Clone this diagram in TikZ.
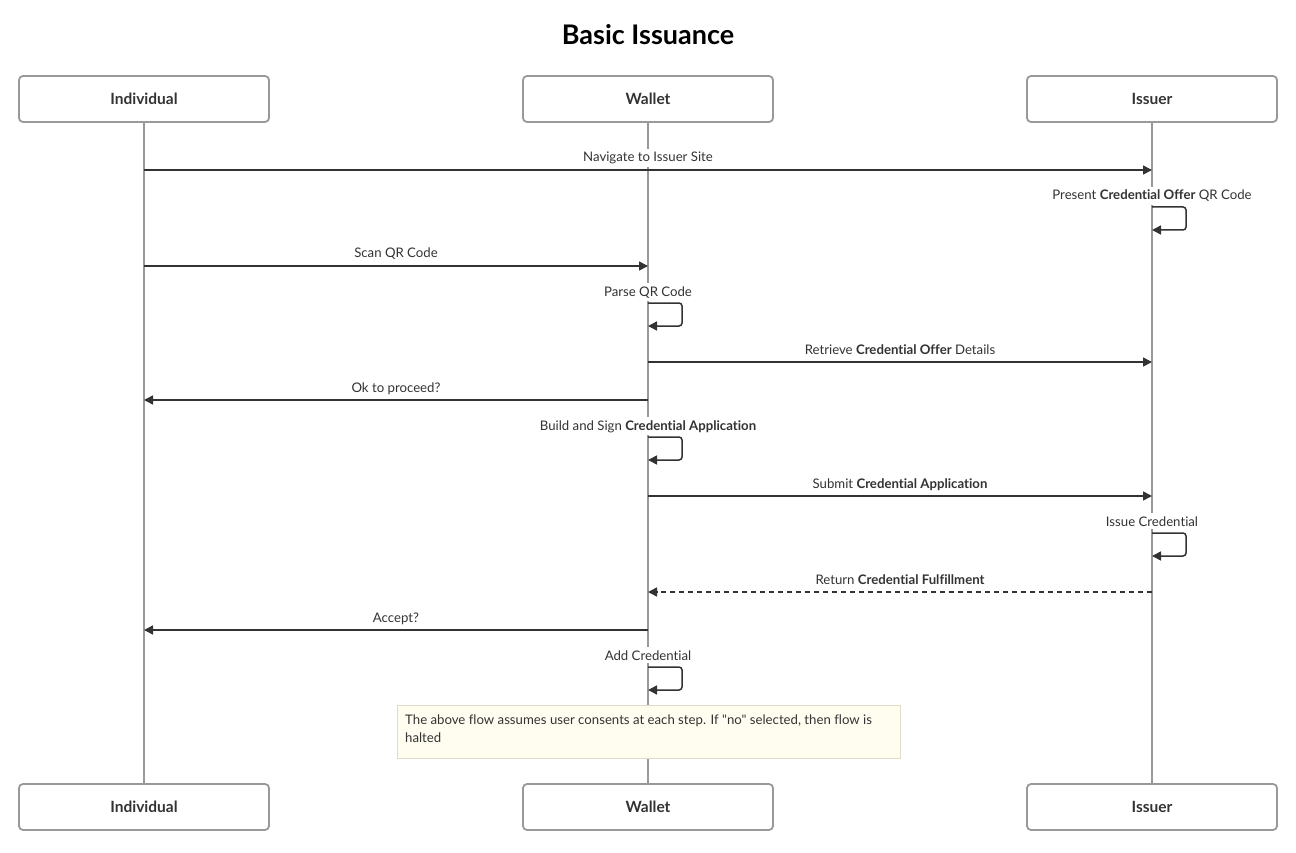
\documentclass[tikz,border=0pt]{standalone}
\usepackage{fontspec}
\setmainfont{Lato}[Ligatures={TeXOff,NoCommon}]
\usetikzlibrary{arrows.meta}
\definecolor{txt}{HTML}{333333}
\definecolor{life}{HTML}{999999}
\definecolor{notefill}{HTML}{FFFDF0}
\definecolor{notedraw}{HTML}{DDDDC8}
\tikzset{
  actor/.style={draw=life, line width=1.8pt, rounded corners=4pt, minimum width=250pt, minimum height=46pt, inner sep=0pt, font=\fontsize{15.5}{18}\selectfont\bfseries, text=txt},
  lifeline/.style={draw=life, line width=1.5pt},
  msg/.style={draw=txt, line width=1.5pt, -{Triangle[length=9pt,width=9pt]}},
  ret/.style={msg, dash pattern=on 5pt off 4pt},
  lbl/.style={font=\fontsize{13.2}{16}\selectfont, text=txt, fill=white, inner xsep=1pt, inner ysep=3pt, anchor=base},
  selfloop/.style={msg, rounded corners=3pt},
}
\begin{document}
\begin{tikzpicture}[x=1pt,y=-1pt]
\useasboundingbox (0,0) rectangle (1296,853);
\node[font=\fontsize{27}{32}\selectfont\bfseries, text=black, anchor=base] (title) at (648,45) {Basic Issuance};
% actors
\node[actor] (ind) at (144,99) {Individual};
\node[actor] (wal) at (648,99) {Wallet};
\node[actor] (iss) at (1152,99) {Issuer};
\node[actor] (indb) at (144,807) {Individual};
\node[actor] (walb) at (648,807) {Wallet};
\node[actor] (issb) at (1152,807) {Issuer};
% lifelines
\draw[lifeline] (ind.south) -- (indb.north);
\draw[lifeline] (wal.south) -- (walb.north);
\draw[lifeline] (iss.south) -- (issb.north);
% coordinates on lifelines
\coordinate (i1) at (144,170); \coordinate (s1) at (1152,170);
\coordinate (s2a) at (1152,207); \coordinate (s2b) at (1152,230);
\coordinate (i3) at (144,266); \coordinate (w3) at (648,266);
\coordinate (w4a) at (648,303); \coordinate (w4b) at (648,326);
\coordinate (w5) at (648,362); \coordinate (s5) at (1152,362);
\coordinate (w6) at (648,400); \coordinate (i6) at (144,400);
\coordinate (w7a) at (648,437); \coordinate (w7b) at (648,460);
\coordinate (w8) at (648,496); \coordinate (s8) at (1152,496);
\coordinate (s9a) at (1152,533); \coordinate (s9b) at (1152,556);
\coordinate (s10) at (1152,592); \coordinate (w10) at (648,592);
\coordinate (w11) at (648,630); \coordinate (i11) at (144,630);
\coordinate (w12a) at (648,667); \coordinate (w12b) at (648,690);
% messages
\draw[msg] (i1) -- (s1);
\node[lbl] (l1) at (648,162) {Navigate to Issuer Site};
\draw[selfloop] (s2a) -- ++(34,0) -- ++(0,23) -- (s2b);
\node[lbl] (l2) at (1152,200) {Present \textbf{Credential Offer} QR Code};
\draw[msg] (i3) -- (w3);
\node[lbl] (l3) at (396,258) {Scan QR Code};
\draw[selfloop] (w4a) -- ++(34,0) -- ++(0,23) -- (w4b);
\node[lbl] (l4) at (648,296) {Parse QR Code};
\draw[msg] (w5) -- (s5);
\node[lbl] (l5) at (900,354) {Retrieve \textbf{Credential Offer} Details};
\draw[msg] (w6) -- (i6);
\node[lbl] (l6) at (396,392) {Ok to proceed?};
\draw[selfloop] (w7a) -- ++(34,0) -- ++(0,23) -- (w7b);
\node[lbl] (l7) at (648,430) {Build and Sign \textbf{Credential Application}};
\draw[msg] (w8) -- (s8);
\node[lbl] (l8) at (900,488) {Submit \textbf{Credential Application}};
\draw[selfloop] (s9a) -- ++(34,0) -- ++(0,23) -- (s9b);
\node[lbl] (l9) at (1152,526) {Issue Credential};
\draw[ret] (s10) -- (w10);
\node[lbl] (l10) at (900,584) {Return \textbf{Credential Fulfillment}};
\draw[msg] (w11) -- (i11);
\node[lbl] (l11) at (396,622) {Accept?};
\draw[selfloop] (w12a) -- ++(34,0) -- ++(0,23) -- (w12b);
\node[lbl] (l12) at (648,660) {Add Credential};
% note
\node[draw=notedraw, fill=notefill, line width=1pt, minimum width=503pt, minimum height=53pt, anchor=north west, inner sep=0pt] (note) at (397,705) {};
\node[font=\fontsize{13.2}{18}\selectfont, text=txt, anchor=north west, align=left, inner sep=0pt] (notetext) at (405,715) {The above flow assumes user consents at each step. If "no" selected, then flow is\\halted};
\end{tikzpicture}
\end{document}
